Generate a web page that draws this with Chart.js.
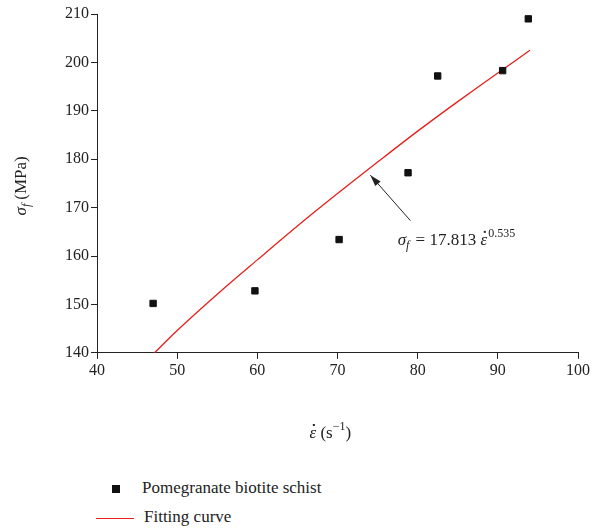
<!DOCTYPE html>
<html><head><meta charset="utf-8">
<script src="https://cdn.jsdelivr.net/npm/chart.js@4/dist/chart.umd.min.js"></script>
<style>
body{margin:0;background:#fff;font-family:"Liberation Serif",serif;}
#wrap{position:relative;width:599px;height:450px;}
.leg{position:absolute;left:0;font-size:17px;color:#222;}
</style></head><body>
<div id="wrap"><canvas id="c" width="599" height="450"></canvas></div>
<div class="leg" style="top:478px;left:112px;"><span style="display:inline-block;width:8px;height:8px;background:#111;margin-right:22px;vertical-align:middle"></span>Pomegranate biotite schist</div>
<div class="leg" style="top:507px;left:96px;"><span style="display:inline-block;width:38px;height:1px;background:#e8201c;margin-right:10px;vertical-align:middle"></span>Fitting curve</div>
<script>
// measured points
const strainRate = [47, 59.7, 70.2, 78.8, 82.5, 90.6, 93.8];
const stress = [150.2, 152.8, 163.4, 177.2, 197.2, 198.3, 209];
// fitting curve
const fitX = [47, 50, 55, 60, 65, 70, 75, 80, 85, 90, 94];
const fitY = [139.7, 144.6, 152.1, 159.2, 166.2, 172.9, 179.4, 185.8, 191.9, 197.8, 202.5];
const xTicks = [40, 50, 60, 70, 80, 90, 100];
const yTicks = [140, 150, 160, 170, 180, 190, 200, 210];

const font = {family: '"Liberation Serif", serif', size: 16};

const overlay = {
  id: 'overlay',
  afterDraw(chart) {
    const {ctx, scales: {x, y}, chartArea} = chart;
    ctx.save();
    ctx.fillStyle = '#222'; ctx.strokeStyle = '#222';
    // arrow
    const x0 = x.getPixelForValue(79.1), y0 = y.getPixelForValue(167.3);
    const x1 = x.getPixelForValue(74.1), y1 = y.getPixelForValue(176.7);
    ctx.lineWidth = 1;
    ctx.beginPath(); ctx.moveTo(x0, y0); ctx.lineTo(x1, y1); ctx.stroke();
    const a = Math.atan2(y1 - y0, x1 - x0);
    ctx.beginPath(); ctx.moveTo(x1, y1);
    ctx.lineTo(x1 - 12 * Math.cos(a - 0.3), y1 - 12 * Math.sin(a - 0.3));
    ctx.lineTo(x1 - 12 * Math.cos(a + 0.3), y1 - 12 * Math.sin(a + 0.3));
    ctx.closePath(); ctx.fill();
    // equation
    let tx = x.getPixelForValue(77.5), ty = y.getPixelForValue(162.3);
    ctx.textBaseline = 'alphabetic'; ctx.textAlign = 'left';
    ctx.font = 'italic 17px "Liberation Serif", serif';
    ctx.fillText('σ', tx, ty); tx += ctx.measureText('σ').width;
    ctx.font = 'italic 12px "Liberation Serif", serif';
    ctx.fillText('f', tx, ty + 4); tx += ctx.measureText('f').width + 2;
    ctx.font = '17px "Liberation Serif", serif';
    const s = ' = 17.813 ';
    ctx.fillText(s, tx, ty); tx += ctx.measureText(s).width;
    ctx.font = 'italic 17px "Liberation Serif", serif';
    ctx.fillText('ε', tx, ty);
    const ew = ctx.measureText('ε').width;
    ctx.fillRect(tx + ew / 2, ty - 14, 2, 2);
    tx += ew + 1;
    ctx.font = '12px "Liberation Serif", serif';
    ctx.fillText('0.535', tx, ty - 8);
    // y title
    ctx.save();
    ctx.translate(26, (chartArea.top + chartArea.bottom) / 2);
    ctx.rotate(-Math.PI / 2);
    ctx.translate(-32, 0);
    let px = 0;
    ctx.font = 'italic 17px "Liberation Serif", serif';
    ctx.fillText('σ', px, 0); px += ctx.measureText('σ').width;
    ctx.font = 'italic 12px "Liberation Serif", serif';
    ctx.fillText('f', px, 4); px += ctx.measureText('f').width + 4;
    ctx.font = '17px "Liberation Serif", serif';
    ctx.fillText('(MPa)', px, 0);
    ctx.restore();
    // x title
    const cx = (chartArea.left + chartArea.right) / 2 - 28, cy = 438;
    ctx.font = 'italic 17px "Liberation Serif", serif';
    ctx.fillText('ε', cx, cy);
    const w = ctx.measureText('ε').width;
    ctx.fillRect(cx + w / 2, cy - 14, 2, 2);
    ctx.font = '17px "Liberation Serif", serif';
    ctx.fillText(' (s', cx + w, cy);
    let qx = cx + w + ctx.measureText(' (s').width;
    ctx.font = '12px "Liberation Serif", serif';
    ctx.fillText('−1', qx, cy - 8); qx += ctx.measureText('−1').width;
    ctx.font = '17px "Liberation Serif", serif';
    ctx.fillText(')', qx, cy);
    ctx.restore();
  }
};

const grid = {display: true, drawOnChartArea: false, drawTicks: true, tickLength: 6, color: '#222'};

new Chart(document.getElementById('c'), {
  type: 'scatter',
  data: {datasets: [
    {label: 'Pomegranate biotite schist', data: strainRate.map((v, i) => ({x: v, y: stress[i]})),
     pointStyle: 'rect', pointRadius: 4.5, backgroundColor: '#111', borderColor: '#111'},
    {label: 'Fitting curve', type: 'line', data: fitX.map((v, i) => ({x: v, y: fitY[i]})),
     borderColor: '#e8201c', borderWidth: 1.3, pointRadius: 0, tension: 0.3, fill: false}
  ]},
  options: {
    responsive: false, animation: false,
    layout: {padding: {left: 63, right: 21, top: 14, bottom: 68}},
    plugins: {legend: {display: false}, tooltip: {enabled: false}},
    scales: {
      x: {type: 'linear', min: 40, max: 100,
        afterBuildTicks: s => { s.ticks = xTicks.map(v => ({value: v})); },
        grid, border: {color: '#222', width: 1},
        ticks: {color: '#222', font, padding: 2}},
      y: {min: 140, max: 210,
        afterBuildTicks: s => { s.ticks = yTicks.map(v => ({value: v})); },
        grid, border: {color: '#222', width: 1},
        ticks: {color: '#222', font, padding: 2}}
    }
  },
  plugins: [overlay]
});
</script></body></html>
